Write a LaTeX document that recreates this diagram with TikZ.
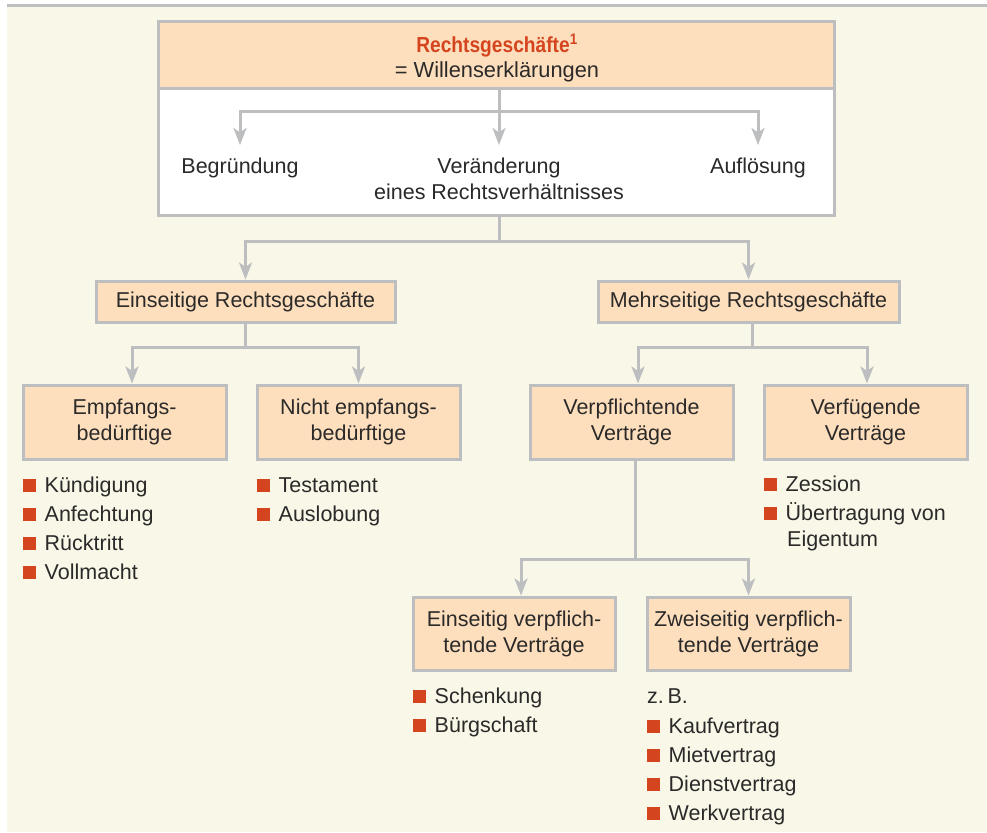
\documentclass[tikz,border=0pt]{standalone}
\usepackage{fontspec}
\setmainfont{Liberation Sans}
\newfontfamily\condfont[FakeStretch=0.88]{Liberation Sans}
\usetikzlibrary{arrows.meta}
\definecolor{bgc}{HTML}{F9F7E8}
\definecolor{linec}{HTML}{BCBEC0}
\definecolor{peach}{HTML}{FDDFBE}
\definecolor{bulred}{HTML}{D4451F}
\definecolor{txt}{HTML}{2B2A29}
\newcommand\bsq{{\color{bulred}\rule[0.5pt]{12.5pt}{12.5pt}}\hspace{9pt}}
\begin{document}
\begin{tikzpicture}[x=1pt,y=-1pt,
  every node/.style={text=txt, font=\fontsize{21.5}{26}\selectfont},
  box/.style={draw=linec, line width=3pt, fill=peach, inner sep=0pt, align=center},
  conn/.style={draw=linec, line width=3pt},
  arr/.style={conn, -{Stealth[length=17pt,width=13pt,inset=4.5pt]}},
  lbl/.style={inner xsep=0pt, inner ysep=13pt, anchor=north, align=center},
  bul/.style={inner sep=0pt, anchor=base west}]
\useasboundingbox (0,0) rectangle (987,832);
\fill[bgc] (7,7) rectangle (987,832);
\fill[linec] (7,4) rectangle (987,7.3);

% top box
\node[draw=linec, line width=3pt, fill=white, minimum width=676pt, minimum height=193pt] (top) at (496,118.5) {};
\node[box, minimum width=676pt, minimum height=67pt] (head) at (496,55.5) {};
\node[inner sep=0pt, align=center, font=\fontsize{21.8}{25}\selectfont] (htext) at (497,57.8) {{\condfont\bfseries\color{bulred}Rechtsgeschäfte\textsuperscript{1}}\\= Willenserklärungen};

\node[lbl] (begr) at (240,145) {Begründung};
\node[lbl] (ver) at (499,145) {Veränderung\\eines Rechtsverhältnisses};
\node[lbl] (aufl) at (758,145) {Auflösung};

\coordinate (t1) at (499,112);
\draw[conn] (head.south -| t1) -- (t1);
\draw[arr] (t1) -- (ver.north);
\draw[arr] (t1) -| (begr.north);
\draw[arr] (t1) -| (aufl.north);

% level 2
\node[box, minimum width=299pt, minimum height=41pt] (einR) at (245.5,301.5) {Einseitige Rechtsgeschäfte};
\node[box, minimum width=301pt, minimum height=41pt] (mehrR) at (748.5,301.5) {Mehrseitige Rechtsgeschäfte};
\coordinate (j1) at (499,241);
\draw[conn] (top.south -| j1) -- (j1);
\draw[arr] (j1) -| (einR.north);
\draw[arr] (j1) -| (mehrR.north);

% level 3
\node[box, minimum width=203pt, minimum height=74pt] (empf) at (124.5,422) {Empfangs-\\bedürftige};
\node[box, minimum width=203pt, minimum height=74pt] (nicht) at (358.5,422) {Nicht empfangs-\\bedürftige};
\node[box, minimum width=203pt, minimum height=74pt] (verpf) at (631.5,422) {Verpflichtende\\Verträge};
\node[box, minimum width=203pt, minimum height=74pt] (verfue) at (865.5,422) {Verfügende\\Verträge};

\coordinate (j2) at (245.5,347);
\coordinate (x1) at (132,0);
\draw[conn] (einR.south) -- (j2);
\draw[arr] (j2) -| (empf.north -| x1);
\draw[arr] (j2) -| (nicht.north);

\coordinate (j3) at (752,347);
\coordinate (x2) at (638,0);
\coordinate (x3) at (867,0);
\draw[conn] (mehrR.south -| j3) -- (j3);
\draw[arr] (j3) -| (verpf.north -| x2);
\draw[arr] (j3) -| (verfue.north -| x3);

% level 4
\node[box, minimum width=202pt, minimum height=73pt] (einV) at (514,633.5) {Einseitig verpflich-\\tende Verträge};
\node[box, minimum width=203pt, minimum height=73pt] (zweiV) at (748.5,633.5) {Zweiseitig verpflich-\\tende Verträge};
\coordinate (j4) at (635,559);
\coordinate (x4) at (521,0);
\draw[conn] (verpf.south -| j4) -- (j4);
\draw[arr] (j4) -| (einV.north -| x4);
\draw[arr] (j4) -| (zweiV.north);

% bullet lists
\node[bul] (e1) at (23,492) {\bsq Kündigung};
\node[bul] (e2) at (23,521) {\bsq Anfechtung};
\node[bul] (e3) at (23,550) {\bsq Rücktritt};
\node[bul] (e4) at (23,579) {\bsq Vollmacht};

\node[bul] (n1) at (257,492) {\bsq Testament};
\node[bul] (n2) at (257,521) {\bsq Auslobung};

\node[bul] (f1) at (764,491) {\bsq Zession};
\node[bul] (f2) at (764,520) {\bsq Übertragung von};
\node[bul] (f3) at (787,546) {Eigentum};

\node[bul] (s1) at (413,703) {\bsq Schenkung};
\node[bul] (s2) at (413,732) {\bsq Bürgschaft};

\node[bul] (z0) at (647,703) {z.\,B.};
\node[bul] (z1) at (647,733) {\bsq Kaufvertrag};
\node[bul] (z2) at (647,762) {\bsq Mietvertrag};
\node[bul] (z3) at (647,791) {\bsq Dienstvertrag};
\node[bul] (z4) at (647,820) {\bsq Werkvertrag};
\end{tikzpicture}
\end{document}
